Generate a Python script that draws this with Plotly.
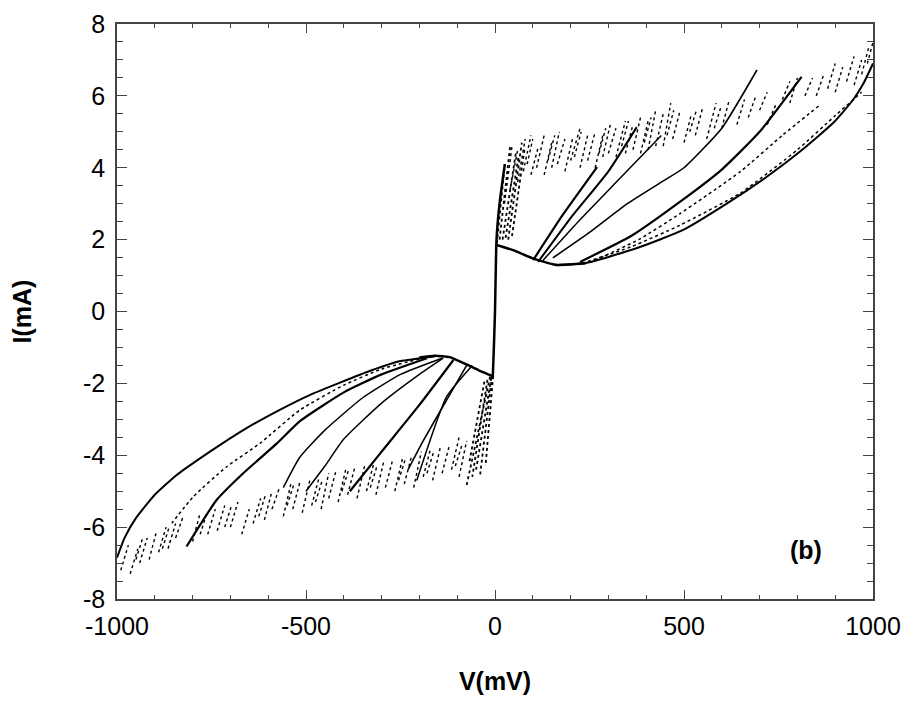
import plotly.graph_objects as go

# ---------------- data ----------------
# central steep branch
center_v = [-6, -3, 0, 4, 12, 26]
center_i = [-1.85, -1.0, 0.0, 2.0, 3.0, 4.1]

# positive side: lower "base" and return curves (V in mV, I in mA)
p_base_v = [4, 50, 100, 160, 200, 240]
p_base_i = [1.85, 1.7, 1.48, 1.3, 1.31, 1.34]

p1_v = [160, 240, 374, 498, 613, 719, 807, 895, 948, 975, 1000]
p1_i = [1.29, 1.35, 1.76, 2.27, 3.0, 3.75, 4.45, 5.25, 5.9, 6.35, 6.9]
p2_v = [230, 360, 489, 650, 800, 900, 970]
p2_i = [1.34, 1.8, 2.4, 3.3, 4.5, 5.45, 6.1]
p3_v = [250, 380, 489, 650, 760, 860]
p3_i = [1.36, 2.0, 2.72, 3.9, 4.9, 5.75]
p4_v = [225, 360, 489, 600, 700, 811]
p4_i = [1.38, 2.1, 3.05, 3.95, 5.0, 6.53]
p5_v = [153, 250, 350, 440, 500, 600, 693]
p5_i = [1.49, 2.2, 3.0, 3.6, 4.0, 5.1, 6.72]
p6_v = [114, 200, 300, 375]
p6_i = [1.38, 2.6, 3.9, 5.13]
p7_v = [101, 180, 270]
p7_i = [1.43, 2.7, 4.02]
p8_v = [125, 220, 330, 440]
p8_i = [1.4, 2.5, 3.7, 4.9]

# positive jump fan (near-vertical)
pj_v0 = [5, 20, 35, 45, 12, 28]
pj_i0 = [1.9, 2.0, 2.0, 2.1, 2.0, 2.05]
pj_v1 = [26, 55, 71, 78, 40, 62]
pj_i1 = [4.1, 4.4, 4.7, 4.5, 4.6, 4.3]

# positive noisy band: short rising stripes (start V, start I, end V, end I)
ps_v0 = [25, 40, 60, 75, 95, 110, 130, 150, 165, 185, 200, 225, 245, 265, 285, 300, 320, 345, 365,
         385, 405, 425, 445, 470, 500, 530, 560, 600, 640, 700, 720, 780, 850, 880, 900, 930, 950, 970, 985,
         85, 140, 210, 275, 335, 395, 455, 515, 580, 670, 760, 820]
ps_i0 = [3.0, 3.4, 3.6, 3.9, 3.8, 4.0, 3.8, 4.0, 4.1, 3.9, 4.2, 4.0, 4.2, 4.0, 4.3, 4.4, 4.3, 4.4, 4.5,
         4.4, 4.5, 4.6, 4.6, 4.8, 4.7, 4.9, 4.8, 5.1, 5.2, 5.6, 5.2, 5.8, 6.0, 6.2, 6.1, 6.4, 6.3, 6.6, 6.9,
         4.1, 4.2, 4.3, 4.4, 4.6, 4.7, 4.9, 5.0, 5.1, 5.4, 5.9, 6.0]
ps_v1 = [45, 60, 80, 95, 115, 130, 150, 170, 185, 205, 225, 245, 265, 285, 305, 320, 345, 365, 385,
         405, 425, 445, 465, 490, 520, 550, 585, 620, 660, 720, 745, 800, 870, 900, 920, 950, 970, 990, 1000,
         100, 158, 228, 293, 353, 413, 473, 533, 598, 690, 780, 840]
ps_i1 = [4.6, 4.5, 4.8, 4.9, 4.6, 4.9, 4.7, 5.0, 4.8, 4.8, 5.1, 4.9, 5.0, 4.9, 5.2, 5.1, 5.3, 5.2, 5.4,
         5.3, 5.6, 5.5, 5.8, 5.6, 5.5, 5.7, 5.8, 5.9, 5.9, 6.1, 5.8, 6.5, 6.6, 6.9, 6.8, 7.1, 7.0, 7.4, 7.5,
         4.8, 4.9, 5.0, 5.1, 5.3, 5.4, 5.6, 5.6, 5.7, 6.0, 6.4, 6.5]

# negative side: upper "base" and return curves
n_base_v = [-5, -40, -80, -120, -160, -200]
n_base_i = [-1.8, -1.65, -1.45, -1.27, -1.23, -1.28]

n1_v = [-160, -250, -330, -410, -489, -577, -666, -754, -842, -900, -950, -980, -1000]
n1_i = [-1.25, -1.38, -1.65, -1.98, -2.32, -2.78, -3.3, -3.9, -4.55, -5.1, -5.75, -6.3, -6.85]
n2_v = [-200, -300, -400, -516, -622, -710, -798, -855]
n2_i = [-1.32, -1.6, -2.05, -2.74, -3.67, -4.32, -5.15, -5.89]
n3_v = [-180, -300, -400, -516, -577, -666, -736, -816]
n3_i = [-1.3, -1.75, -2.25, -3.05, -3.67, -4.5, -5.24, -6.54]
n4_v = [-140, -250, -350, -450, -516, -560]
n4_i = [-1.3, -1.75, -2.4, -3.3, -4.05, -4.9]
n5_v = [-137, -200, -300, -400, -450, -500]
n5_i = [-1.3, -1.75, -2.55, -3.55, -4.3, -5.0]
n6_v = [-110, -200, -300, -384]
n6_i = [-1.35, -2.6, -3.9, -5.0]
n7_v = [-75, -130, -190, -230]
n7_i = [-1.5, -2.5, -3.6, -4.4]
n8_v = [-60, -128, -207]
n8_i = [-1.5, -2.37, -4.7]

# negative jump fan
nj_v0 = [-5, -8, -13, -20, -10, -28]
nj_i0 = [-1.8, -1.8, -1.81, -1.9, -1.85, -1.95]
nj_v1 = [-25, -40, -75, -60, -50, -68]
nj_i1 = [-4.3, -4.6, -4.83, -4.6, -4.4, -4.2]

# negative noisy band stripes
ns_v0 = [-990, -965, -940, -915, -890, -865, -845, -800, -760, -735, -700, -670, -640, -610, -590, -560,
         -535, -510, -485, -460, -440, -415, -390, -365, -340, -315, -290, -265, -240, -215, -190, -165,
         -140, -115, -95, -950, -880, -780, -715, -625, -550, -475, -405, -330, -255, -180, -105]
ns_i0 = [-7.2, -7.3, -7.0, -6.9, -6.7, -6.6, -6.3, -6.4, -6.2, -6.1, -6.0, -6.2, -5.9, -5.8, -5.5, -5.7,
         -5.5, -5.6, -5.4, -5.5, -5.2, -5.3, -5.1, -5.2, -5.0, -5.1, -4.9, -5.0, -4.8, -4.9, -4.6, -4.7,
         -4.5, -4.4, -4.6, -6.9, -6.6, -6.2, -6.0, -5.7, -5.4, -5.3, -5.0, -4.9, -4.7, -4.5, -4.3]
ns_v1 = [-970, -945, -920, -895, -870, -845, -825, -780, -740, -715, -680, -650, -620, -590, -570, -540,
         -515, -490, -465, -440, -420, -395, -370, -345, -320, -295, -270, -245, -220, -195, -170, -145,
         -120, -95, -75, -932, -862, -762, -697, -607, -532, -457, -387, -312, -237, -162, -87]
ns_i1 = [-6.5, -6.6, -6.3, -6.1, -6.0, -5.9, -5.7, -5.6, -5.5, -5.4, -5.3, -5.5, -5.2, -5.0, -4.9, -4.8,
         -4.7, -4.7, -4.6, -4.5, -4.4, -4.4, -4.3, -4.3, -4.2, -4.2, -4.1, -4.1, -4.0, -3.9, -3.8, -3.8,
         -3.7, -3.5, -3.6, -6.3, -6.0, -5.6, -5.4, -5.1, -4.8, -4.7, -4.4, -4.3, -4.1, -3.9, -3.7]

x_ticks = [-1000, -500, 0, 500, 1000]
y_ticks = [-8, -6, -4, -2, 0, 2, 4, 6, 8]

# ---------------- figure ----------------
fig = go.Figure()
FONT = "Liberation Sans, Arial"


def segs(v0, i0, v1, i1):
    xs, ys = [], []
    for a, b, c, d in zip(v0, i0, v1, i1):
        xs += [a, c, None]
        ys += [b, d, None]
    return xs, ys


def add_line(x, y, width=2.0, dash="solid"):
    fig.add_trace(go.Scatter(x=x, y=y, mode="lines",
                             line=dict(color="black", width=width, dash=dash, shape="spline", smoothing=0.5),
                             hoverinfo="skip", showlegend=False))


add_line(center_v, center_i, 2.5)
add_line(p_base_v, p_base_i, 2.5)
add_line(n_base_v, n_base_i, 2.5)

for x, y, w, d in [(p1_v, p1_i, 2.0, "solid"), (p2_v, p2_i, 1.5, "dot"), (p3_v, p3_i, 1.5, "dot"),
                   (p4_v, p4_i, 2.2, "solid"), (p5_v, p5_i, 1.6, "solid"), (p6_v, p6_i, 2.0, "solid"),
                   (p7_v, p7_i, 2.2, "solid"), (p8_v, p8_i, 1.5, "solid"),
                   (n1_v, n1_i, 2.0, "solid"), (n2_v, n2_i, 1.5, "dot"), (n3_v, n3_i, 2.2, "solid"),
                   (n4_v, n4_i, 1.5, "solid"), (n5_v, n5_i, 1.5, "solid"), (n6_v, n6_i, 2.2, "solid"),
                   (n7_v, n7_i, 1.6, "solid"), (n8_v, n8_i, 1.5, "solid")]:
    add_line(x, y, w, d)

for v0, i0, v1, i1, w in [(pj_v0, pj_i0, pj_v1, pj_i1, 1.8), (nj_v0, nj_i0, nj_v1, nj_i1, 1.8),
                          (ps_v0, ps_i0, ps_v1, ps_i1, 1.4), (ns_v0, ns_i0, ns_v1, ns_i1, 1.4)]:
    xs, ys = segs(v0, i0, v1, i1)
    fig.add_trace(go.Scatter(x=xs, y=ys, mode="lines", line=dict(color="black", width=w, dash="dot"),
                             hoverinfo="skip", showlegend=False))

axis_common = dict(showline=True, linecolor="#444", linewidth=1.5, mirror="allticks", ticks="inside",
                   tickcolor="#444", tickwidth=1.2, showgrid=False, zeroline=False, automargin=False,
                   tickfont=dict(family=FONT, size=25, color="black"))

fig.update_xaxes(range=[-1000, 1000], tickvals=x_ticks, ticktext=[str(v) for v in x_ticks], ticklen=9,
                 ticklabelstandoff=4,
                 minor=dict(dtick=100, ticklen=4, ticks="inside", tickcolor="#444", tickwidth=1.2),
                 title=dict(text="<b>V(mV)</b>", font=dict(family=FONT, size=25, color="black"), standoff=34),
                 **axis_common)
fig.update_yaxes(range=[-8, 8], tickvals=y_ticks, ticktext=[str(v) for v in y_ticks], ticklen=10,
                 ticklabelstandoff=5,
                 minor=dict(dtick=0.5, ticklen=6, ticks="inside", tickcolor="#444", tickwidth=1.2),
                 title=dict(text="<b>I(mA)</b>", font=dict(family=FONT, size=25, color="black"), standoff=44),
                 **axis_common)

fig.add_annotation(x=822, y=-6.65, xref="x", yref="y", text="<b>(b)</b>", showarrow=False,
                   font=dict(family=FONT, size=25, color="black"))

# page body adds an 8 px offset; the figure is sized so the plot box lands where the reference's is
fig.update_layout(width=897, height=688, margin=dict(l=109, r=32, t=16, b=97),
                  paper_bgcolor="white", plot_bgcolor="white")

fig.write_html("out.html")
